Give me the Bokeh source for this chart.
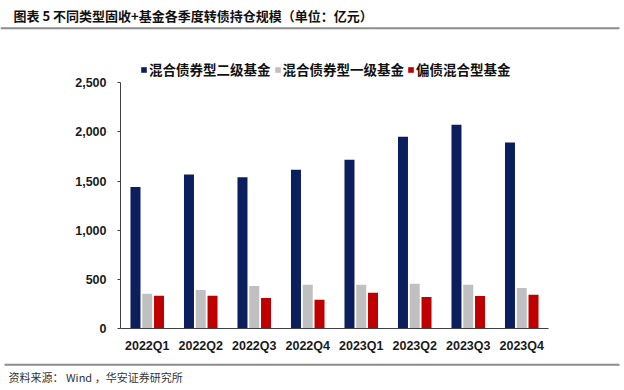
from bokeh.plotting import figure
from bokeh.models import (ColumnDataSource, FactorRange, FixedTicker, NumeralTickFormatter,
                          Legend, LegendItem, Range1d)
from bokeh.core.properties import value
from bokeh.transform import dodge
from bokeh.embed import file_html
from bokeh.resources import INLINE

quarters = ["2022Q1", "2022Q2", "2022Q3", "2022Q4", "2023Q1", "2023Q2", "2023Q3", "2023Q4"]
series_names = ["混合债券型二级基金", "混合债券型一级基金", "偏债混合型基金"]
secondary_bond = [1440, 1568, 1538, 1616, 1716, 1952, 2074, 1894]
primary_bond = [353, 391, 432, 445, 445, 455, 445, 411]
bond_hybrid = [333, 333, 310, 292, 364, 320, 330, 343]
y_ticks = [0, 500, 1000, 1500, 2000, 2500]

title_text = "图表 5 不同类型固收+基金各季度转债持仓规模（单位：亿元）"
source_text = "资料来源： Wind ，华安证券研究所"

colors = ["#0b1f5e", "#c0c0c0", "#c00000"]
W = 624


def strip_fig(h):
    f = figure(width=W, height=h, x_range=Range1d(0, W), y_range=Range1d(h, 0),
               output_backend="svg", toolbar_location=None,
               min_border=0, min_border_left=0, min_border_right=0,
               min_border_top=0, min_border_bottom=0)
    f.axis.visible = False
    f.grid.visible = False
    f.outline_line_color = None
    f.background_fill_color = "white"
    f.border_fill_color = "white"
    return f


# header strip: title + rule
top = strip_fig(40)
top.text(x=[13], y=[15], text=[title_text], text_font=value("Noto Sans CJK SC"),
         text_font_style="bold", text_font_size="13px", text_baseline="middle",
         text_align="left", text_color="#111111")
top.segment(x0=[0], y0=[27.7], x1=[619], y1=[27.7], line_color="#8c8c8c", line_width=2)

# main chart
src = ColumnDataSource(dict(q=quarters, a=secondary_bond, b=primary_bond, c=bond_hybrid))

p = figure(x_range=FactorRange(*quarters), y_range=Range1d(0, 2829),
           width=W, height=316, output_backend="svg", toolbar_location=None,
           min_border_left=120, min_border_right=76, min_border_top=10, min_border_bottom=28)
p.outline_line_color = None
p.xgrid.visible = False
p.ygrid.visible = False
p.background_fill_color = "white"
p.border_fill_color = "white"

bw = 0.187
r1 = p.vbar(x=dodge("q", -0.22, range=p.x_range), top="a", width=bw, source=src,
            fill_color=colors[0], line_color=None)
r2 = p.vbar(x=dodge("q", 0.0, range=p.x_range), top="b", width=bw, source=src,
            fill_color=colors[1], line_color=None)
r3 = p.vbar(x=dodge("q", 0.22, range=p.x_range), top="c", width=bw, source=src,
            fill_color=colors[2], line_color=None)

p.yaxis.ticker = FixedTicker(ticks=y_ticks)
p.yaxis.formatter = NumeralTickFormatter(format="0,0")
p.yaxis.bounds = (0, 2500)
p.yaxis.major_tick_out = 3
p.yaxis.major_tick_in = 0
p.yaxis.minor_tick_out = 0
p.yaxis.minor_tick_in = 0
p.yaxis.major_label_standoff = 11
p.yaxis.axis_line_color = "#404040"
p.yaxis.major_tick_line_color = "#404040"
p.xaxis.major_tick_out = 0
p.xaxis.major_tick_in = 0
p.xaxis.major_label_standoff = 10
p.xaxis.axis_line_color = "#404040"
for ax in (p.xaxis[0], p.yaxis[0]):
    ax.major_label_text_font = "Liberation Sans"
    ax.major_label_text_font_style = "bold"
    ax.major_label_text_font_size = "12.5px"
    ax.major_label_text_color = "#1a1a1a"

legend = Legend(items=[LegendItem(label=series_names[0], renderers=[r1]),
                       LegendItem(label=series_names[1], renderers=[r2]),
                       LegendItem(label=series_names[2], renderers=[r3])],
                orientation="horizontal", location=(20, 249))
legend.glyph_width = 7
legend.glyph_height = 7
legend.label_standoff = 2
legend.spacing = 3
legend.padding = 0
legend.margin = 0
legend.border_line_color = None
legend.background_fill_alpha = 0
legend.label_text_font = "Noto Sans CJK SC"
legend.label_text_font_style = "bold"
legend.label_text_font_size = "13.5px"
legend.label_text_color = "#111111"
p.add_layout(legend, "center")

# footer strip: rule + source
bottom = strip_fig(34)
bottom.segment(x0=[4], y0=[8.3], x1=[619], y1=[8.3], line_color="#8c8c8c", line_width=2)
bottom.text(x=[8], y=[20.7], text=[source_text], text_font=value("Noto Sans CJK SC"),
            text_font_size="11px", text_baseline="middle", text_align="left",
            text_color="#333333")

open("out.html", "w").write(file_html([top, p, bottom], INLINE))
